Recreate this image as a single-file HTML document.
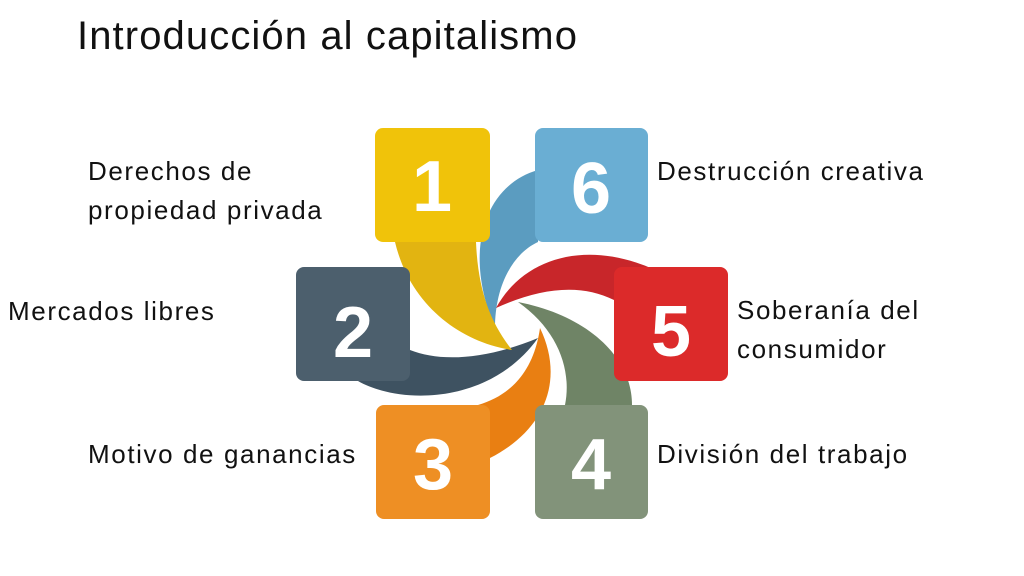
<!DOCTYPE html>
<html><head><meta charset="utf-8"><style>
body{margin:0;width:1024px;height:576px;background:#fff;position:relative;overflow:hidden;font-family:"Liberation Sans",sans-serif}
.t{position:absolute;font-size:26px;letter-spacing:1.6px;color:#111;line-height:1;white-space:nowrap}
</style></head><body>
<div class="t" style="left:77px;top:16px;font-size:40px;letter-spacing:1.1px">Introducción al capitalismo</div>
<div class="t" style="left:88px;top:158px">Derechos de</div>
<div class="t" style="left:88px;top:197px">propiedad privada</div>
<div class="t" style="left:8px;top:298px">Mercados libres</div>
<div class="t" style="left:88px;top:441px">Motivo de ganancias</div>
<div class="t" style="left:657px;top:158px">Destrucción creativa</div>
<div class="t" style="left:737px;top:297px">Soberanía del</div>
<div class="t" style="left:737px;top:336px">consumidor</div>
<div class="t" style="left:657px;top:441px">División del trabajo</div>
<svg width="1024" height="576" style="position:absolute;left:0;top:0">
<path d="M538,170 C485,185 462,250 495,328 C495,290 510,255 538,242 Z" fill="#5b9cc0"/>
<path d="M655,270 C590,240 525,255 496,308 C540,288 580,283 614,300 Z" fill="#c8262a"/>
<path d="M632,405 C632,355 585,315 518,302 C558,330 572,370 565,405 Z" fill="#6f8466"/>
<path d="M490,458 C545,430 565,380 540,328 C534,370 512,395 478,405 Z" fill="#e97f12"/>
<path d="M358,381 C400,405 490,405 538,338 C485,360 440,362 410,350 Z" fill="#3e5261"/>
<path d="M395,242 L476,242 C478,290 490,322 512,350 C460,342 410,305 395,242 Z" fill="#e2b411"/>
<g font-family="Liberation Sans,sans-serif" font-weight="bold" font-size="72" fill="#fff" text-anchor="middle">
<rect x="375" y="128" width="115" height="114" rx="8" fill="#f0c30a"/><text x="432" y="211">1</text>
<rect x="535" y="128" width="113" height="114" rx="8" fill="#6aaed3"/><text x="591" y="213">6</text>
<rect x="296" y="267" width="114" height="114" rx="8" fill="#4c5f6d"/><text x="353" y="357">2</text>
<rect x="614" y="267" width="114" height="114" rx="8" fill="#dc2a2a"/><text x="671" y="356">5</text>
<rect x="376" y="405" width="114" height="114" rx="8" fill="#ee8f24"/><text x="433" y="489">3</text>
<rect x="535" y="405" width="113" height="114" rx="8" fill="#82937a"/><text x="591" y="489">4</text>
</g>
</svg>
</body></html>
